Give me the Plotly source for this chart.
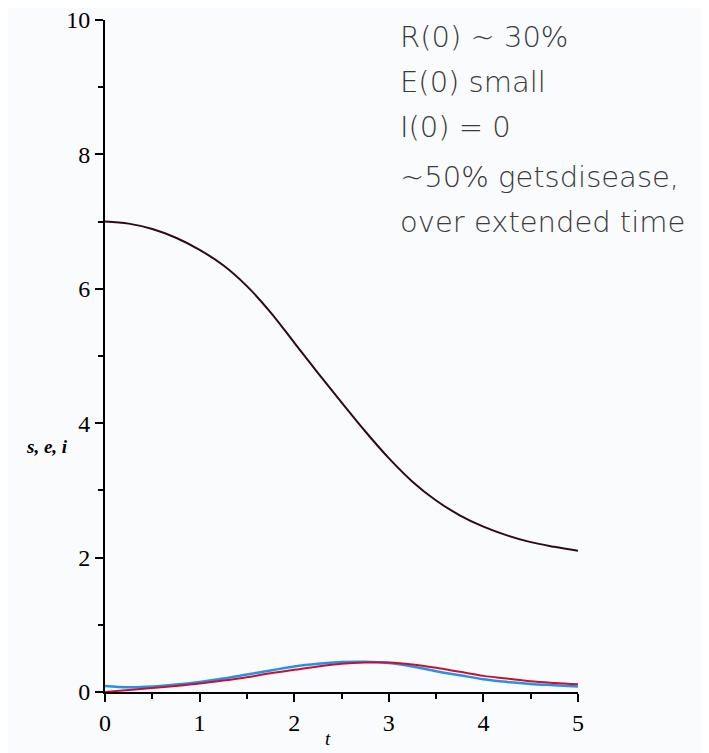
import plotly.graph_objects as go

t = [0, 0.25, 0.5, 0.75, 1.0, 1.25, 1.5, 1.75, 2.0, 2.25, 2.5, 2.75, 3.0,
     3.25, 3.5, 3.75, 4.0, 4.25, 4.5, 4.75, 5.0]
s_vals = [7.00, 6.97, 6.89, 6.76, 6.58, 6.35, 6.04, 5.65, 5.20, 4.75, 4.31,
          3.88, 3.48, 3.13, 2.85, 2.63, 2.46, 2.33, 2.23, 2.16, 2.10]
e_vals = [0.09, 0.07, 0.08, 0.11, 0.15, 0.20, 0.26, 0.32, 0.38, 0.42, 0.445,
          0.45, 0.43, 0.38, 0.31, 0.25, 0.19, 0.15, 0.12, 0.10, 0.08]
i_vals = [0.0, 0.03, 0.06, 0.09, 0.125, 0.17, 0.22, 0.28, 0.33, 0.38, 0.42,
          0.44, 0.44, 0.41, 0.36, 0.30, 0.24, 0.20, 0.16, 0.135, 0.115]

x_ticks = [0, 1, 2, 3, 4, 5]
y_ticks = [0, 2, 4, 6, 8, 10]
notes = ["R(0) ~ 30%", "E(0) small", "I(0) = 0", "~50% getsdisease,", "over extended time"]
note_y = [9.75, 9.08, 8.41, 7.66, 7.0]

fig = go.Figure()
fig.add_trace(go.Scatter(x=t, y=s_vals, mode="lines", line=dict(color="#2b0a1c", width=2, shape="spline", smoothing=1.0), cliponaxis=False))
fig.add_trace(go.Scatter(x=t, y=e_vals, mode="lines", line=dict(color="#2a8fe6", width=2.5, shape="spline"), cliponaxis=False))
fig.add_trace(go.Scatter(x=t, y=i_vals, mode="lines", line=dict(color="#c8102e", width=2, shape="spline"), cliponaxis=False))

for txt, yy in zip(notes, note_y):
    fig.add_annotation(x=3.1, y=yy, xref="x", yref="y", text=txt, showarrow=False,
                       xanchor="left", yanchor="middle",
                       font=dict(family="DejaVu Sans", size=29, color="#3a3a3a", weight=300))

fig.add_annotation(x=-0.075, y=0.365, xref="paper", yref="paper", text="<b><i>s, e, i</i></b>", showarrow=False,
                   xanchor="right", yanchor="middle", font=dict(family="Liberation Serif", size=19, color="black"))
fig.add_annotation(x=2.36, y=0, xref="x", yref="paper", yshift=-34, text="<i>t</i>", showarrow=False,
                   yanchor="top", font=dict(family="Liberation Serif", size=19, color="black"))

axis_font = dict(family="Liberation Serif", size=24, color="black")
fig.update_layout(
    width=701, height=745,
    margin=dict(l=97, r=131, t=12, b=61, autoexpand=False),
    paper_bgcolor="#fafbfd", plot_bgcolor="#fafbfd",
    showlegend=False,
    xaxis=dict(range=[0, 5], tickvals=x_ticks, ticks="outside", ticklen=8, tickwidth=1.5,
               tickcolor="black", showline=True, linecolor="black", linewidth=2,
               showgrid=False, zeroline=False, tickfont=axis_font, ticklabeloverflow="allow",
               automargin=False,
               minor=dict(dtick=0.5, ticks="outside", ticklen=5, tickcolor="black", tickwidth=1.5, showgrid=False)),
    yaxis=dict(range=[0, 10], tickvals=y_ticks, ticks="outside", ticklen=8, tickwidth=1.5,
               tickcolor="black", showline=True, linecolor="black", linewidth=2,
               showgrid=False, zeroline=False, tickfont=axis_font, ticklabeloverflow="allow",
               automargin=False,
               minor=dict(dtick=1, ticks="outside", ticklen=5, tickcolor="black", tickwidth=1.5, showgrid=False)),
)

fig.write_html("out.html")
